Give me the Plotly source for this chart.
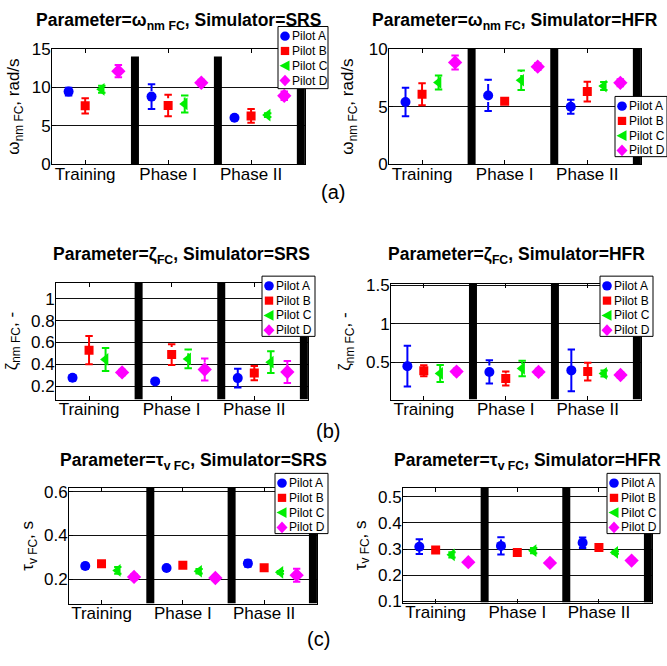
import plotly.graph_objects as go

W, H = 667, 666

phases = ["Training", "Phase I", "Phase II"]
pilots = ["Pilot A", "Pilot B", "Pilot C", "Pilot D"]
phase_pos = [1, 2, 3]
divider_pos = [1.6, 2.6, 3.6]
pilot_offset = [-0.2, 0.0, 0.2, 0.4]

# Rows: Pilot A..D; columns: Training, Phase I, Phase II
omega_srs_mean = [[9.45, 8.8, 6.05], [7.6, 7.65, 6.3], [9.75, 7.85, 6.4], [12.1, 10.6, 8.9]]
omega_srs_err = [[0.5, 1.6, 0.15], [1.0, 1.4, 0.9], [0.45, 1.1, 0.25], [0.8, 0.4, 0.55]]

omega_hfr_mean = [[5.4, 5.97, 4.99], [6.08, 5.46, 6.3], [7.09, 7.28, 6.78], [8.82, 8.46, 7.06]]
omega_hfr_err = [[1.23, 1.35, 0.6], [0.95, 0.1, 0.85], [0.6, 0.85, 0.35], [0.6, 0.3, 0.3]]

zeta_srs_mean = [[0.277, 0.244, 0.274], [0.53, 0.49, 0.32], [0.445, 0.45, 0.42], [0.326, 0.353, 0.33]]
zeta_srs_err = [[0.025, 0.012, 0.085], [0.13, 0.095, 0.065], [0.105, 0.085, 0.1], [0.025, 0.1, 0.1]]

zeta_hfr_mean = [[0.45, 0.375, 0.395], [0.39, 0.29, 0.38], [0.355, 0.42, 0.355], [0.38, 0.375, 0.335]]
zeta_hfr_err = [[0.265, 0.15, 0.27], [0.07, 0.09, 0.115], [0.11, 0.1, 0.04], [0.04, 0.04, 0.04]]

tau_srs_mean = [[0.26, 0.251, 0.272], [0.271, 0.263, 0.252], [0.24, 0.236, 0.231], [0.21, 0.205, 0.218]]
tau_srs_err = [[0.012, 0.008, 0.015], [0.01, 0.01, 0.006], [0.015, 0.01, 0.006], [0.012, 0.01, 0.03]]

tau_hfr_mean = [[0.309, 0.312, 0.324], [0.296, 0.287, 0.306], [0.278, 0.294, 0.287], [0.25, 0.247, 0.256]]
tau_hfr_err = [[0.028, 0.033, 0.02], [0.005, 0.01, 0.005], [0.01, 0.01, 0.005], [0.008, 0.008, 0.008]]

colors = ["#0000FF", "#FF0000", "#00EE00", "#FF00FF"]
symbols = ["circle", "square", "triangle-left", "diamond"]
sizes = [10, 9, 11, 11]
phase_dash = ["solid", "dashdot", "solid"]
CAP = 0.045
FONT = "Arial, Liberation Sans, sans-serif"

panels = [
    dict(mean=omega_srs_mean, err=omega_srs_err,
         title="Parameter=ω<sub>nm FC</sub>, Simulator=SRS", ytitle="ω<sub>nm FC</sub>, rad/s",
         dx=(52, 305), dy=(41, 160), yr=(0, 15), yt=[0, 5, 10, 15], top=14,
         ytx=15, tty=-1.5, leg=(278, 18, 328, 82)),
    dict(mean=omega_hfr_mean, err=omega_hfr_err,
         title="Parameter=ω<sub>nm FC</sub>, Simulator=HFR", ytitle="ω<sub>nm FC</sub>, rad/s",
         dx=(389, 641), dy=(41, 160), yr=(0, 10), yt=[0, 5, 10], top=10,
         ytx=349, tty=-1, leg=(615, 90, 667, 152)),
    dict(mean=zeta_srs_mean, err=zeta_srs_err,
         title="Parameter=ζ<sub>FC</sub>, Simulator=SRS", ytitle="ζ<sub>nm FC</sub>, -",
         dx=(56, 308), dy=(282, 402), yr=(0.078, 1.145), yt=[0.2, 0.4, 0.6, 0.8, 1], top=1.145,
         ytx=13, tty=239.5, leg=(262, 275, 315, 337)),
    dict(mean=zeta_hfr_mean, err=zeta_hfr_err,
         title="Parameter=ζ<sub>FC</sub>, Simulator=HFR", ytitle="ζ<sub>nm FC</sub>, -",
         dx=(391, 641), dy=(283, 402), yr=(0.017, 1.516), yt=[0.5, 1, 1.5], top=1.516,
         ytx=346, tty=239.5, leg=(600, 275, 653, 337)),
    dict(mean=tau_srs_mean, err=tau_srs_err,
         title="Parameter=τ<sub>v FC</sub>, Simulator=SRS", ytitle="τ<sub>v FC</sub>, s",
         dx=(69, 317), dy=(493, 612), yr=(0.088, 0.618), yt=[0.2, 0.4, 0.6], top=0.618,
         ytx=29, tty=451.5, leg=(275, 478, 328, 540)),
    dict(mean=tau_hfr_mean, err=tau_hfr_err,
         title="Parameter=τ<sub>v FC</sub>, Simulator=HFR", ytitle="τ<sub>v FC</sub>, s",
         dx=(403, 652), dy=(493, 611), yr=(0.096, 0.533), yt=[0.1, 0.2, 0.3, 0.4, 0.5], top=0.533,
         ytx=362, tty=451.5, leg=(607, 478, 660, 540)),
]


def fx(px):
    return px / W


def fy(py):
    return 1 - py / H


def key_shape(kind, cx, cy, color):
    """Legend key drawn in page pixels, converted to paper coordinates."""
    base = dict(xref="paper", yref="paper", fillcolor=color, line=dict(width=0), layer="above")
    if kind == "circle":
        r = 4.8
        return dict(type="circle", x0=fx(cx - r), x1=fx(cx + r), y0=fy(cy + r), y1=fy(cy - r), **base)
    if kind == "square":
        r = 4.2
        return dict(type="rect", x0=fx(cx - r), x1=fx(cx + r), y0=fy(cy + r), y1=fy(cy - r), **base)
    if kind == "triangle-left":
        pts = [(cx - 5.5, cy), (cx + 4.5, cy - 5.5), (cx + 4.5, cy + 5.5)]
    else:
        pts = [(cx, cy - 6), (cx + 5.5, cy), (cx, cy + 6), (cx - 5.5, cy)]
    path = "M " + " L ".join(f"{fx(a):.5f},{fy(b):.5f}" for a, b in pts) + " Z"
    return dict(type="path", path=path, **base)


fig = go.Figure()
shapes = []
annotations = []
layout = {}

for i, pn in enumerate(panels, start=1):
    xr = "x" if i == 1 else f"x{i}"
    yr = "y" if i == 1 else f"y{i}"
    xkey = "xaxis" if i == 1 else f"xaxis{i}"
    ykey = "yaxis" if i == 1 else f"yaxis{i}"

    # error bars, one trace per pilot and line style
    for p in range(4):
        for dash in sorted(set(phase_dash)):
            xs, ys = [], []
            for k in range(3):
                if phase_dash[k] != dash:
                    continue
                x = phase_pos[k] + pilot_offset[p]
                m = pn["mean"][p][k]
                e = pn["err"][p][k]
                xs += [x, x, None, x - CAP, x + CAP, None, x - CAP, x + CAP, None]
                ys += [m - e, m + e, None, m + e, m + e, None, m - e, m - e, None]
            fig.add_trace(go.Scatter(x=xs, y=ys, mode="lines", xaxis=xr, yaxis=yr,
                                     line=dict(color=colors[p], width=2, dash=dash),
                                     showlegend=False, hoverinfo="skip"))
    # mean markers
    for p in range(4):
        fig.add_trace(go.Scatter(
            x=[phase_pos[k] + pilot_offset[p] for k in range(3)], y=pn["mean"][p],
            mode="markers", xaxis=xr, yaxis=yr, name=pilots[p], showlegend=False,
            marker=dict(symbol=symbols[p], size=sizes[p], color=colors[p], line=dict(width=0))))

    layout[xkey] = dict(domain=[fx(pn["dx"][0]), fx(pn["dx"][1])], range=[0.6, 3.65],
                        anchor=yr, tickvals=phase_pos, ticktext=phases, ticks="inside",
                        ticklen=4, tickcolor="black", showline=True, linecolor="black",
                        linewidth=1, mirror="ticks", showgrid=False, zeroline=False,
                        ticklabelstandoff=-6,
                        tickfont=dict(family=FONT, size=17, color="black"))
    layout[ykey] = dict(domain=[fy(pn["dy"][1]), fy(pn["dy"][0])], range=list(pn["yr"]),
                        anchor=xr, tickvals=pn["yt"], ticks="inside", ticklen=4,
                        tickcolor="black", showline=True, linecolor="black", linewidth=1,
                        mirror="ticks", showgrid=True, gridcolor="#111111", gridwidth=1,
                        zeroline=False, ticklabelstandoff=-3,
                        tickfont=dict(family=FONT, size=17, color="black"))

    # thick phase dividers
    for d in divider_pos:
        shapes.append(dict(type="line", xref=xr, yref=yr, x0=d, x1=d, y0=pn["yr"][0],
                           y1=pn["top"], line=dict(color="black", width=8)))

    xc = (pn["dx"][0] + pn["dx"][1]) / 2
    yc = (pn["dy"][0] + pn["dy"][1]) / 2
    annotations.append(dict(text="<b>" + pn["title"] + "</b>", xref="paper", yref="paper",
                            x=fx(xc), y=fy(pn["tty"]), xanchor="center", yanchor="top",
                            showarrow=False, font=dict(family=FONT, size=17.5, color="black")))
    annotations.append(dict(text=pn["ytitle"], xref="paper", yref="paper",
                            x=fx(pn["ytx"]), y=fy(yc), xanchor="center", yanchor="middle",
                            textangle=-90, showarrow=False,
                            font=dict(family=FONT, size=17, color="black")))

    # legend box with keys
    l, t, r, b = pn["leg"]
    shapes.append(dict(type="rect", xref="paper", yref="paper", x0=fx(l), x1=fx(r),
                       y0=fy(b), y1=fy(t), line=dict(color="black", width=1),
                       fillcolor="white", layer="above"))
    for p in range(4):
        ey = t + 10 + 15.2 * p
        shapes.append(key_shape(symbols[p], l + 7, ey, colors[p]))
        annotations.append(dict(text=pilots[p], xref="paper", yref="paper", x=fx(l + 12),
                                y=fy(ey), xanchor="left", yanchor="middle", showarrow=False,
                                font=dict(family=FONT, size=12, color="black")))

for lab, (px, py) in zip(["(a)", "(b)", "(c)"], [(333, 188), (328, 434), (318, 648)]):
    annotations.append(dict(text=lab, xref="paper", yref="paper", x=fx(px), y=fy(py),
                            xanchor="center", yanchor="middle", showarrow=False,
                            font=dict(family=FONT, size=20, color="black")))

fig.update_layout(width=W, height=H, margin=dict(l=0, r=0, t=0, b=0), autosize=False,
                  paper_bgcolor="white", plot_bgcolor="white", showlegend=False,
                  shapes=shapes, annotations=annotations, **layout)

fig.write_html("out.html")
